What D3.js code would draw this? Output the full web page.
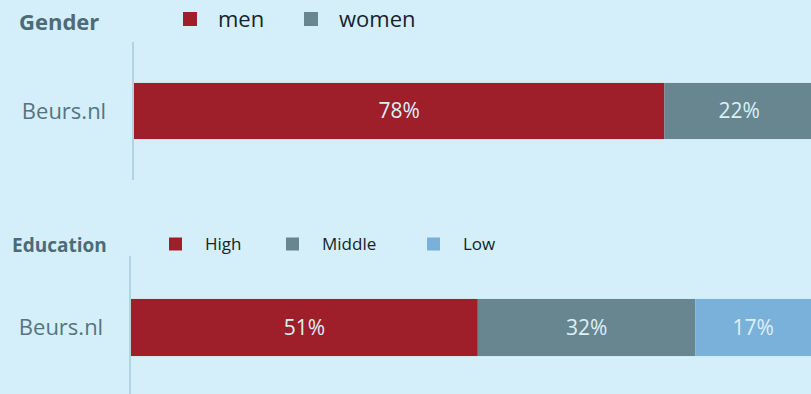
<!DOCTYPE html>
<html>
<head>
<meta charset="utf-8">
<script src="https://cdn.jsdelivr.net/npm/d3@7"></script>
<style>
  body { margin: 0; background: #d5effa; }
  svg { display: block; font-family: "Open Sans", sans-serif; }
</style>
</head>
<body>
<div id="chart"></div>
<script>
var categories = ["Beurs.nl"];
var genderKeys = ["men", "women"];
var genderValues = [78, 22];
var eduKeys = ["High", "Middle", "Low"];
var eduValues = [51, 32, 17];
var colors = ["#9e1e2a", "#68868f", "#7ab1da"];

var w = 811, h = 394;

var svg = d3.select("#chart").append("svg")
    .attr("width", w)
    .attr("height", h);

svg.append("rect")
    .attr("width", w).attr("height", h)
    .attr("fill", "#d5effa");

// one stacked bar panel
function panel(opt) {
    var g = svg.append("g");
    var x = d3.scaleLinear().domain([0, 100]).range([opt.x0, opt.x1]);
    var y = d3.scaleBand().domain(categories).range([opt.yTop, opt.yBot]).paddingInner(0).paddingOuter(opt.pad);

    var stack = [], acc = 0;
    opt.values.forEach(function(v, i){
        stack.push({key: opt.keys[i], v0: acc, v1: acc + v, v: v, i: i});
        acc += v;
    });

    g.selectAll("rect.seg")
        .data(stack)
        .enter().append("rect")
        .attr("class", "seg")
        .attr("x", function(d){ return x(d.v0); })
        .attr("width", function(d){ return x(d.v1) - x(d.v0); })
        .attr("y", y(categories[0]))
        .attr("height", y.bandwidth())
        .attr("fill", function(d){ return colors[d.i]; });

    g.selectAll("text.val")
        .data(stack)
        .enter().append("text")
        .attr("class", "val")
        .attr("x", function(d){ return (x(d.v0) + x(d.v1)) / 2; })
        .attr("y", y(categories[0]) + y.bandwidth() / 2)
        .attr("dy", "0.35em")
        .attr("text-anchor", "middle")
        .attr("fill", "#dcf0f8")
        .style("font-size", "21px")
        .text(function(d){ return d.v + "%"; });

    // axis line on the left
    g.append("line")
        .attr("x1", opt.x0 - 1).attr("x2", opt.x0 - 1)
        .attr("y1", opt.lineTop).attr("y2", opt.lineBot)
        .attr("stroke", "#b5d3df").attr("stroke-width", 2);

    g.selectAll("text.cat")
        .data(categories)
        .enter().append("text")
        .attr("class", "cat")
        .attr("x", opt.catX)
        .attr("y", function(d){ return y(d) + y.bandwidth() / 2; })
        .attr("dy", "0.35em")
        .attr("text-anchor", "middle")
        .attr("fill", "#567480")
        .style("font-size", "22px")
        .text(function(d){ return d; });

    g.append("text")
        .attr("x", opt.titleX).attr("y", opt.titleY)
        .attr("fill", "#4d6b77")
        .style("font-size", opt.titleSize + "px")
        .style("font-weight", "bold")
        .text(opt.title);

    var leg = g.selectAll("g.leg")
        .data(opt.keys)
        .enter().append("g")
        .attr("class", "leg")
        .attr("transform", function(d, i){ return "translate(" + opt.legX[i] + "," + opt.legY + ")"; });

    leg.append("rect")
        .attr("x", 0).attr("y", -opt.sq / 2)
        .attr("width", opt.sq).attr("height", opt.sq)
        .attr("fill", function(d, i){ return colors[i]; });

    leg.append("text")
        .attr("x", opt.legGap)
        .attr("y", 0)
        .attr("dy", "0.35em")
        .attr("fill", "#13242e")
        .style("font-size", opt.legSize + "px")
        .text(function(d){ return d; });
}

panel({
    title: "Gender", titleX: 19, titleY: 30, titleSize: 22,
    keys: genderKeys, values: genderValues,
    x0: 134, x1: 814, yTop: 42, yBot: 180, pad: 0.73,
    lineTop: 42, lineBot: 180, catX: 64,
    legX: [183, 304], legY: 19, sq: 14, legGap: 35, legSize: 22
});

panel({
    title: "Education", titleX: 12, titleY: 252, titleSize: 19,
    keys: eduKeys, values: eduValues,
    x0: 131, x1: 811, yTop: 259, yBot: 396, pad: 0.70,
    lineTop: 256, lineBot: 394, catX: 61,
    legX: [169, 286, 427], legY: 244, sq: 13, legGap: 36, legSize: 17
});
</script>
</body>
</html>
